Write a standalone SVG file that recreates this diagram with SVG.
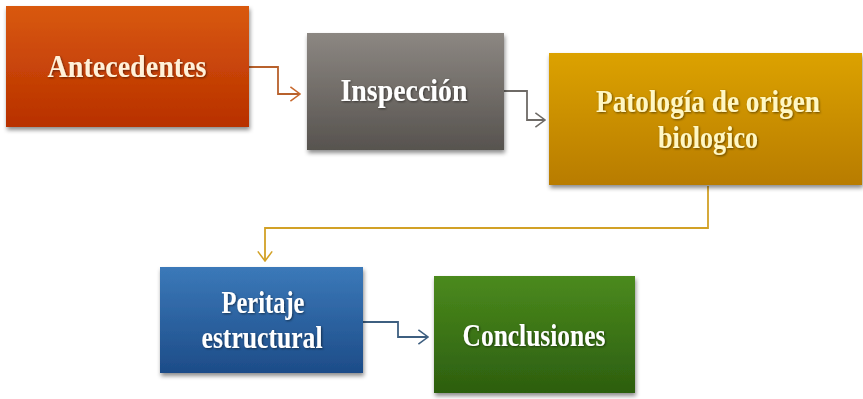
<svg xmlns="http://www.w3.org/2000/svg" width="863" height="399" viewBox="0 0 863 399">
<defs>
<linearGradient id="gOrange" x1="0" y1="0" x2="0" y2="1"><stop offset="0" stop-color="#d9590f"/><stop offset="1" stop-color="#b83000"/></linearGradient>
<linearGradient id="gGray" x1="0" y1="0" x2="0" y2="1"><stop offset="0" stop-color="#8c8782"/><stop offset="1" stop-color="#57534f"/></linearGradient>
<linearGradient id="gGold" x1="0" y1="0" x2="0" y2="1"><stop offset="0" stop-color="#dca205"/><stop offset="1" stop-color="#b87c02"/></linearGradient>
<linearGradient id="gBlue" x1="0" y1="0" x2="0" y2="1"><stop offset="0" stop-color="#3b79b9"/><stop offset="1" stop-color="#1d4c88"/></linearGradient>
<linearGradient id="gGreen" x1="0" y1="0" x2="0" y2="1"><stop offset="0" stop-color="#4b8a1d"/><stop offset="1" stop-color="#2c5e0f"/></linearGradient>
<filter id="shadow" x="-10%" y="-10%" width="120%" height="130%"><feDropShadow dx="1" dy="3" stdDeviation="2" flood-color="#000" flood-opacity="0.45"/></filter>
<filter id="tshadow" x="-30%" y="-60%" width="160%" height="220%"><feDropShadow dx="1" dy="1" stdDeviation="0.8" flood-color="#000" flood-opacity="0.5"/></filter>
<marker id="aOrange" viewBox="0 0 10 14" refX="9" refY="7" markerWidth="12" markerHeight="17" markerUnits="userSpaceOnUse" orient="auto"><path d="M1,1 L9,7 L1,13" fill="none" stroke="#c8692e" stroke-width="1.3"/></marker>
<marker id="aGray" viewBox="0 0 10 14" refX="9" refY="7" markerWidth="12" markerHeight="17" markerUnits="userSpaceOnUse" orient="auto"><path d="M1,1 L9,7 L1,13" fill="none" stroke="#6e6a66" stroke-width="1.3"/></marker>
<marker id="aGold" viewBox="0 0 10 14" refX="9" refY="7" markerWidth="12" markerHeight="17" markerUnits="userSpaceOnUse" orient="auto"><path d="M1,1 L9,7 L1,13" fill="none" stroke="#d2a126" stroke-width="1.3"/></marker>
<marker id="aBlue" viewBox="0 0 10 14" refX="9" refY="7" markerWidth="12" markerHeight="17" markerUnits="userSpaceOnUse" orient="auto"><path d="M1,1 L9,7 L1,13" fill="none" stroke="#3e5f80" stroke-width="1.3"/></marker>
</defs>
<style>
.lbl{font-family:"Liberation Serif","Times New Roman",serif;font-weight:bold;font-size:32px;text-anchor:middle;filter:url(#tshadow)}
.box{filter:url(#shadow)}
.con{fill:none;stroke-width:1.8}
</style>
<rect width="863" height="399" fill="#ffffff"/>
<g id="connectors">
<path class="con" d="M249,67 H278 V94 H300" stroke="#b8612c" marker-end="url(#aOrange)"/>
<path class="con" d="M504,91 H527 V120 H545" stroke="#6e6a66" marker-end="url(#aGray)"/>
<path class="con" d="M708,186 V228 H265 V261" stroke="#d2a126" marker-end="url(#aGold)"/>
<path class="con" d="M363,322 H398 V337 H428" stroke="#3e5f80" marker-end="url(#aBlue)"/>
</g>
<g id="antecedentes">
<rect class="box" x="6" y="6" width="243" height="121" fill="url(#gOrange)"/>
<text class="lbl" x="127" y="77" fill="#fff1d9" textLength="159" lengthAdjust="spacingAndGlyphs">Antecedentes</text>
</g>
<g id="inspeccion">
<rect class="box" x="307" y="33" width="197" height="117" fill="url(#gGray)"/>
<text class="lbl" x="404" y="101" fill="#ffffff" textLength="127" lengthAdjust="spacingAndGlyphs">Inspección</text>
</g>
<g id="patologia">
<rect class="box" x="549" y="53" width="313" height="132" fill="url(#gGold)"/>
<text class="lbl" x="708" y="112" fill="#fff7c4" textLength="224" lengthAdjust="spacingAndGlyphs">Patología de origen</text>
<text class="lbl" x="708" y="148" fill="#fff7c4" textLength="100" lengthAdjust="spacingAndGlyphs">biologico</text>
</g>
<g id="peritaje">
<rect class="box" x="160" y="267" width="203" height="106" fill="url(#gBlue)"/>
<text class="lbl" x="263" y="313" fill="#ffffff" textLength="83" lengthAdjust="spacingAndGlyphs">Peritaje</text>
<text class="lbl" x="262" y="348" fill="#ffffff" textLength="121" lengthAdjust="spacingAndGlyphs">estructural</text>
</g>
<g id="conclusiones">
<rect class="box" x="434" y="276" width="201" height="117" fill="url(#gGreen)"/>
<text class="lbl" x="534" y="346" fill="#ffffff" textLength="143" lengthAdjust="spacingAndGlyphs">Conclusiones</text>
</g>
</svg>
